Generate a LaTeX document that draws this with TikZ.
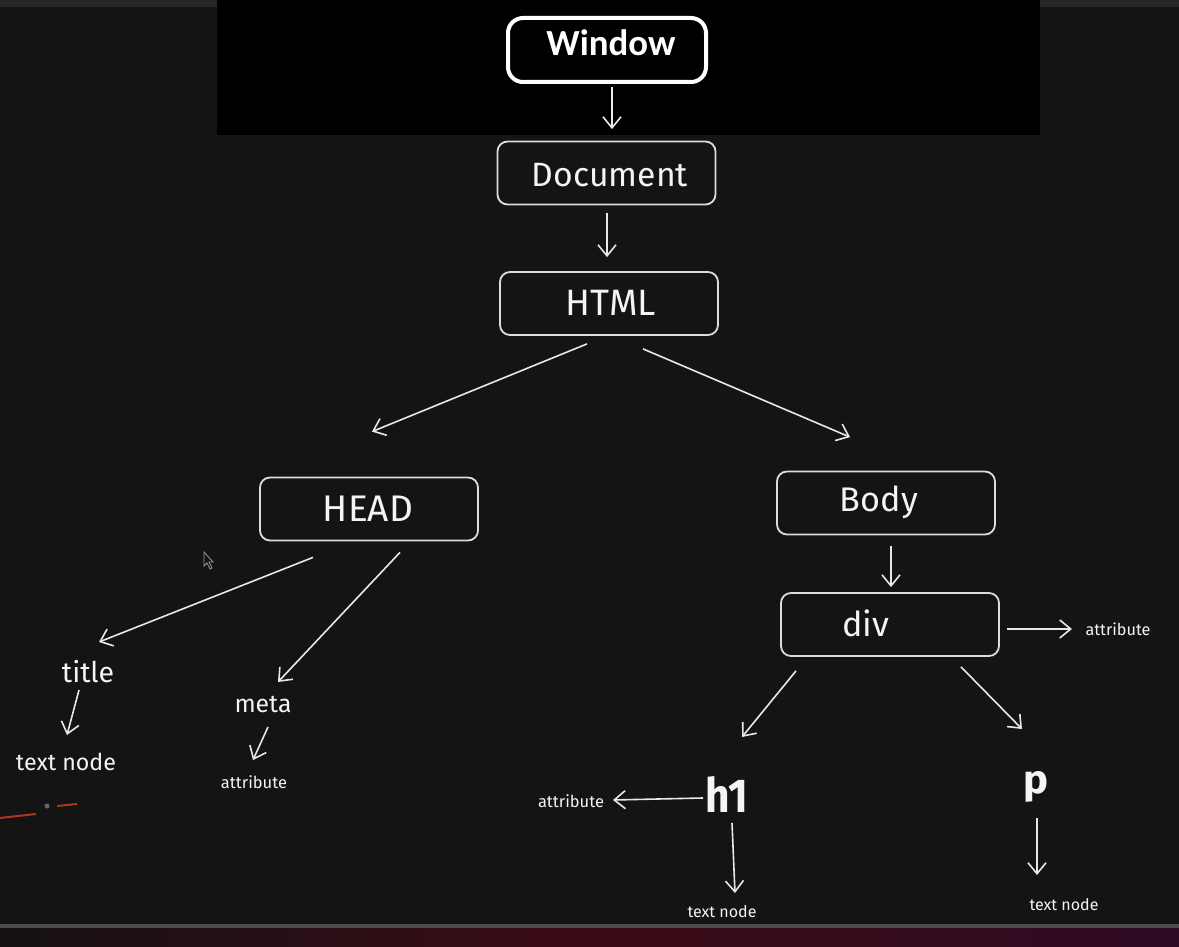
\documentclass[tikz,border=0pt]{standalone}
\usepackage{fontspec}
\setmainfont{Fira Sans}
\newfontfamily\winfont{Carlito}
\usetikzlibrary{arrows.meta}
\definecolor{bg}{HTML}{141414}
\definecolor{boxc}{HTML}{DCDCDC}
\definecolor{txt}{HTML}{F4F4F4}
\definecolor{linec}{HTML}{E8E8E8}
\definecolor{orng}{RGB}{170,55,30}
\definecolor{stripL}{RGB}{20,16,20}
\definecolor{stripM}{RGB}{60,12,22}
\definecolor{stripR}{RGB}{45,10,35}
\newcommand\fw[2]{\resizebox{#1pt}{!}{#2}}
\begin{document}
\begin{tikzpicture}[x=1pt,y=-1pt,
  box/.style={draw=boxc, line width=1.8pt, rounded corners=10pt, minimum width=218pt, minimum height=63pt, inner sep=0pt},
  lbl/.style={text=txt, inner sep=0pt},
  con/.style={draw=linec, line width=1.6pt, -{Straight Barb[length=11pt,width=18pt,line width=1.6pt]}}]
% background
\fill[bg] (0,0) rectangle (1179,947);
\useasboundingbox (0,0) rectangle (1179,947);
\fill[black!85!white] (0,0) rectangle (1179,7);
\fill[black] (217,0) rectangle (1040,135);
\fill[black!70!white] (0,924) rectangle (1179,928);
\shade[left color=stripL, right color=stripR, middle color=stripM] (0,928) rectangle (1179,947);
% cursor
\draw[gray!80, line width=0.8pt, fill=bg] (204,552) -- (204,566) -- (207,563) -- (210,569) -- (212,568) -- (209,562) -- (213,562) -- cycle;
% orange mark
\draw[line width=2pt, orng] (0,818) -- (36,814);
\draw[line width=2pt, orng] (57,806) -- (77,804);
\fill[black!60!white] (47,806) circle (2.5pt);
% Window
\node[draw=white, line width=4pt, rounded corners=15pt, fill=black, minimum width=198pt, minimum height=64pt, inner sep=0pt] (win) at (607,50) {};
\node[lbl, text=white] (wint) at (611,43) {\winfont\bfseries\fw{129}{Window}};
% boxes
\node[box] (doc) at (606.5,173) {};
\node[lbl] (doct) at (610,175) {\fw{156}{Document}};
\node[box] (html) at (609,303.5) {};
\node[lbl] (htmlt) at (611,303) {\fw{90}{HTML}};
\node[box] (head) at (369,509) {};
\node[lbl] (headt) at (368,509) {\fw{90}{HEAD}};
\node[box] (body) at (886,503) {};
\node[lbl] (bodyt) at (879,502) {\fw{78}{Body}};
\node[box] (div) at (890,624.5) {};
\node[lbl] (divt) at (866,623) {\fw{47}{div}};
% free labels
\node[lbl] (attrR) at (1118,629) {\fw{65}{attribute}};
\node[lbl] (h1) at (727,794) {\resizebox{43pt}{36pt}{\bfseries h1}};
\node[lbl] (p) at (1036,787) {\resizebox{25pt}{22pt}{\bfseries p}};
\node[lbl] (attrB) at (571,801) {\fw{66}{attribute}};
\node[lbl] (tn1) at (722,912) {\fw{69}{text node}};
\node[lbl] (tn2) at (1064,905) {\fw{69}{text node}};
\node[lbl] (title) at (88,672) {\fw{52}{title}};
\node[lbl] (tn0) at (66,762) {\fw{100}{text node}};
\node[lbl] (meta) at (263,705) {\fw{57}{meta}};
\node[lbl] (attrM) at (254,782) {\fw{66}{attribute}};
% connectors
\draw[con] ([shift={(5,3)}]win.south) -- ([shift={(5.5,-11.5)}]doc.north);
\draw[con] ([shift={(0.5,7.5)}]doc.south) -- ([shift={(-2,-14)}]html.north);
\draw[con] ([shift={(-22,8)}]html.south) -- ([shift={(3,-45)}]head.north);
\draw[con] ([shift={(34,13)}]html.south) -- ([shift={(-36,-33.5)}]body.north);
\draw[con] ([shift={(5,10.5)}]body.south) -- ([shift={(1,-5)}]div.north);
\draw[con] ([shift={(7,4.5)}]div.east) -- ([shift={(-46,0)}]attrR.center);
\draw[con] ([shift={(-94,14)}]div.south) -- ([shift={(15,-57)}]h1.center);
\draw[con] ([shift={(71,10)}]div.south) -- ([shift={(-14,-58)}]p.center);
\draw[con] ([shift={(-24,4)}]h1.center) -- ([shift={(42,-1)}]attrB.center);
\draw[con] ([shift={(5,29)}]h1.center) -- ([shift={(13,-19)}]tn1.center);
\draw[con] ([shift={(1,31)}]p.center) -- ([shift={(-27,-30)}]tn2.center);
\draw[con] ([shift={(-56,16)}]head.south) -- ([shift={(11,-30)}]title.center);
\draw[con] ([shift={(-9,18)}]title.center) -- ([shift={(1,-27)}]tn0.center);
\draw[con] ([shift={(31,11)}]head.south) -- ([shift={(15,-23)}]meta.center);
\draw[con] ([shift={(5,22)}]meta.center) -- ([shift={(-1,-22)}]attrM.center);
\end{tikzpicture}
\end{document}
